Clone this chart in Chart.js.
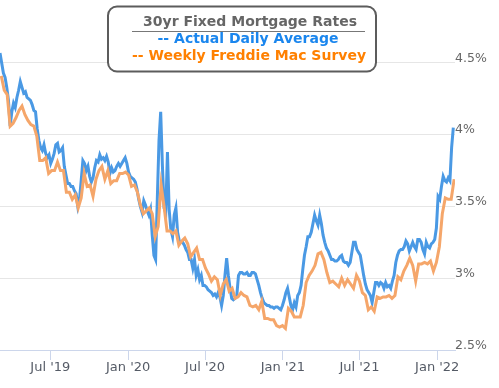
<!DOCTYPE html>
<html>
<head>
<meta charset="utf-8">
<script src="https://cdn.jsdelivr.net/npm/chart.js@4.4.1/dist/chart.umd.min.js"></script>
<style>
  html, body { margin: 0; padding: 0; background: #fff; }
  #wrap { width: 499px; height: 388px; }
</style>
</head>
<body>
<div id="wrap"><canvas id="rates" width="499" height="388"></canvas></div>
<script>
// Actual daily average: one reading every 4 days, starting 2019-03-04
const dailyStart = '2019-03-04';
const dailyStep = 4;
const dailyRates = [
  4.57, 4.50, 4.43, 4.40, 4.33, 4.24, 4.06, 4.16, 4.22, 4.19,
  4.26, 4.31, 4.37, 4.33, 4.29, 4.30, 4.26, 4.25, 4.24, 4.21,
  4.17, 4.16, 4.04, 3.96, 3.91, 3.89, 3.93, 3.87, 3.84, 3.86,
  3.80, 3.83, 3.87, 3.93, 3.94, 3.88, 3.89, 3.91, 3.78, 3.72,
  3.66, 3.66, 3.64, 3.64, 3.61, 3.59, 3.50, 3.55, 3.68, 3.82,
  3.80, 3.75, 3.78, 3.71, 3.67, 3.70, 3.77, 3.82, 3.81, 3.86,
  3.83, 3.84, 3.82, 3.85, 3.81, 3.73, 3.77, 3.74, 3.75, 3.78,
  3.80, 3.78, 3.80, 3.82, 3.84, 3.80, 3.74, 3.71, 3.70, 3.69,
  3.67, 3.62, 3.55, 3.50, 3.46, 3.54, 3.51, 3.47, 3.44, 3.48,
  3.30, 3.16, 3.13, 3.55, 3.96, 4.16, 3.79, 3.49, 3.46, 3.88,
  3.48, 3.34, 3.29, 3.44, 3.49, 3.32, 3.26, 3.25, 3.25, 3.23,
  3.20, 3.18, 3.13, 3.13, 3.07, 3.13, 3.02, 3.06, 2.99, 3.02,
  2.95, 2.95, 2.94, 2.92, 2.91, 2.90, 2.88, 2.89, 2.87, 2.90,
  2.87, 2.81, 2.88, 3.02, 3.14, 3.02, 2.93, 2.86, 2.85, 2.86,
  2.88, 3.02, 3.04, 3.04, 3.03, 3.03, 3.04, 3.02, 3.02, 3.04,
  3.04, 3.03, 2.99, 2.95, 2.90, 2.86, 2.83, 2.82, 2.81, 2.81,
  2.80, 2.80, 2.79, 2.80, 2.80, 2.79, 2.78, 2.81, 2.85, 2.90,
  2.93, 2.87, 2.81, 2.78, 2.83, 2.80, 2.88, 2.90, 2.95, 3.06,
  3.16, 3.22, 3.29, 3.29, 3.32, 3.38, 3.44, 3.40, 3.37, 3.44,
  3.38, 3.30, 3.25, 3.21, 3.19, 3.16, 3.13, 3.13, 3.12, 3.12,
  3.13, 3.15, 3.16, 3.12, 3.11, 3.11, 3.09, 3.11, 3.18, 3.25,
  3.25, 3.20, 3.18, 3.16, 3.09, 3.02, 2.96, 2.92, 2.90, 2.88,
  2.83, 2.90, 2.97, 2.97, 2.95, 2.97, 2.96, 2.93, 2.97, 2.94,
  2.95, 2.93, 2.98, 3.02, 3.11, 3.16, 3.19, 3.20, 3.20, 3.22,
  3.26, 3.24, 3.19, 3.22, 3.25, 3.22, 3.20, 3.27, 3.27, 3.25,
  3.20, 3.17, 3.25, 3.22, 3.21, 3.24, 3.25, 3.27, 3.35, 3.57,
  3.55, 3.64, 3.71, 3.68, 3.67, 3.70, 3.68, 3.91, 4.05
];

// Weekly Freddie Mac survey: every Thursday, starting 2019-03-07
const weeklyStart = '2019-03-07';
const weeklyStep = 7;
const weeklyRates = [
  4.41, 4.31, 4.28, 4.06, 4.08, 4.12, 4.17, 4.20, 4.14, 4.10, 4.07, 4.06, 3.99,
  3.82, 3.82, 3.84, 3.73, 3.75, 3.75, 3.81, 3.75, 3.75, 3.60, 3.60, 3.55, 3.58,
  3.49, 3.56, 3.73, 3.64, 3.65, 3.57, 3.69, 3.75, 3.78, 3.69, 3.75, 3.66, 3.68,
  3.68, 3.73, 3.73, 3.74,
  3.72, 3.64, 3.65, 3.60, 3.51, 3.45, 3.47, 3.49, 3.45, 3.29, 3.36, 3.65, 3.50,
  3.33, 3.33, 3.31, 3.33, 3.23, 3.26, 3.28, 3.24, 3.15, 3.18, 3.21, 3.13, 3.13,
  3.07, 3.03, 2.98, 3.01, 2.99, 2.88, 2.96, 2.99, 2.91, 2.93, 2.86, 2.87, 2.90,
  2.88, 2.87, 2.81, 2.80, 2.81, 2.78, 2.84, 2.72, 2.72, 2.71, 2.71, 2.67, 2.66,
  2.67,
  2.65, 2.79, 2.77, 2.73, 2.73, 2.73, 2.81, 2.97, 3.02, 3.05, 3.09, 3.17, 3.18,
  3.13, 3.04, 2.97, 2.98, 2.96, 2.94, 3.00, 2.95, 2.99, 2.96, 2.93, 3.02, 2.98,
  2.90, 2.88, 2.78, 2.80, 2.77, 2.87, 2.86, 2.87, 2.87, 2.88, 2.86, 2.88, 3.01,
  2.99, 3.05, 3.09, 3.14, 3.09, 2.98, 3.10, 3.10, 3.11, 3.10, 3.12, 3.05, 3.11,
  3.22, 3.45, 3.56, 3.55, 3.55, 3.69
];

const tickDates = ['2019-07-01', '2020-01-01', '2020-07-01', '2021-01-01', '2021-07-01', '2022-01-01'];
const tickLabels = ["Jul '19", "Jan '20", "Jul '20", "Jan '21", "Jul '21", "Jan '22"];
const rateTicks = [2.5, 3, 3.5, 4, 4.5];

// x axis unit: days since 2019-01-01
const EPOCH = Date.parse('2019-01-01');
const dayOf = s => (Date.parse(s) - EPOCH) / 864e5;

const seriesPoints = (start, step, values) =>
  values.map((v, i) => ({ x: dayOf(start) + i * step, y: v }));

const font = "'DejaVu Sans', Verdana, sans-serif";

const titleBox = {
  id: 'titleBox',
  afterDraw(chart) {
    const ctx = chart.ctx;
    const x = 108, y = 6.5, w = 268, h = 65, r = 9;
    ctx.save();
    ctx.beginPath();
    ctx.moveTo(x + r, y);
    ctx.arcTo(x + w, y, x + w, y + h, r);
    ctx.arcTo(x + w, y + h, x, y + h, r);
    ctx.arcTo(x, y + h, x, y, r);
    ctx.arcTo(x, y, x + w, y, r);
    ctx.closePath();
    ctx.fillStyle = '#ffffff';
    ctx.fill();
    ctx.lineWidth = 2;
    ctx.strokeStyle = '#5c5c5c';
    ctx.stroke();

    ctx.font = 'bold 14px ' + font;
    ctx.textAlign = 'center';
    ctx.textBaseline = 'middle';
    ctx.fillStyle = '#666666';
    ctx.fillText('30yr Fixed Mortgage Rates', 250, 22);
    ctx.beginPath();
    ctx.moveTo(132, 31.5);
    ctx.lineTo(365, 31.5);
    ctx.lineWidth = 1;
    ctx.strokeStyle = '#777777';
    ctx.stroke();
    ctx.fillStyle = '#1a86ee';
    ctx.fillText('-- Actual Daily Average', 248, 39.5);
    ctx.fillStyle = '#ff8000';
    ctx.fillText('-- Weekly Freddie Mac Survey', 249, 56.5);
    ctx.restore();
  }
};

new Chart(document.getElementById('rates'), {
  type: 'line',
  data: {
    datasets: [
      {
        label: 'Weekly Freddie Mac Survey',
        data: seriesPoints(weeklyStart, weeklyStep, weeklyRates),
        borderColor: '#f5a66a',
        borderWidth: 3,
        pointRadius: 0,
        tension: 0,
      },
      {
        label: 'Actual Daily Average',
        data: seriesPoints(dailyStart, dailyStep, dailyRates),
        borderColor: '#4a99e4',
        borderWidth: 3,
        pointRadius: 0,
        tension: 0,
      },
    ],
  },
  options: {
    responsive: false,
    devicePixelRatio: 1,
    animation: false,
    layout: { padding: { top: 34, left: 0, right: 0, bottom: 0 } },
    plugins: { legend: { display: false }, tooltip: { enabled: false } },
    scales: {
      x: {
        type: 'linear',
        min: 62,
        max: 1138,
        afterBuildTicks: s => { s.ticks = tickDates.map(d => ({ value: dayOf(d) })); },
        afterFit: s => { s.height = 38; },
        grid: { drawOnChartArea: false, drawTicks: true, tickLength: 10, color: '#ccd6eb' },
        border: { display: true, color: '#ccd6eb', width: 1 },
        ticks: {
          autoSkip: false,
          maxRotation: 0,
          padding: 0,
          color: '#555b66',
          font: { family: font, size: 13 },
          callback: (v, i) => tickLabels[i],
        },
      },
      y: {
        position: 'right',
        min: 2.5,
        max: 4.702,
        afterBuildTicks: s => { s.ticks = rateTicks.map(v => ({ value: v })); },
        afterFit: s => { s.width = 44; },
        grid: { color: '#e6e6e6', lineWidth: 1, drawTicks: false },
        border: { display: false },
        ticks: {
          padding: 0,
          labelOffset: -4.5,
          color: '#666666',
          font: { family: font, size: 12.5 },
          callback: v => v + '%',
        },
      },
    },
  },
  plugins: [titleBox],
});
</script>
</body>
</html>
